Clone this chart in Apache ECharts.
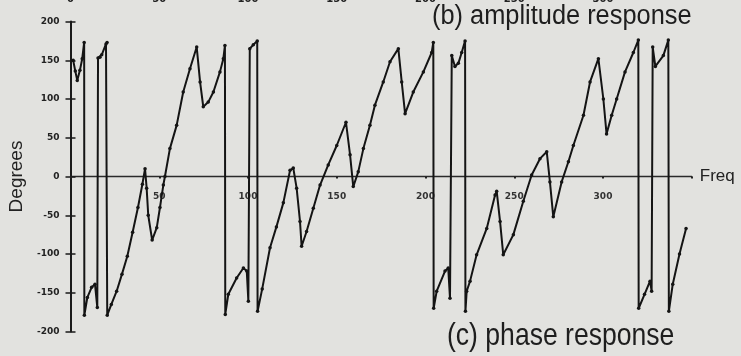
<!DOCTYPE html>
<html>
<head>
<meta charset="utf-8">
<script src="https://cdn.jsdelivr.net/npm/echarts@6/dist/echarts.min.js"></script>
<style>
html,body{margin:0;padding:0;background:#e2e2df;}
#c{width:741px;height:356px;}
</style>
</head>
<body>
<div id="c"></div>
<script>
// Frequency samples (x) and wrapped phase in degrees (y)
var freq = [1.5,2.7,3.8,5.3,6.6,7.7,7.8,9.5,11.9,13.8,15.1,15.5,16.6,17.6,20.0,20.6,20.7,
  23,26,29,32,35,38,40.5,42,42.9,43.8,46,48.6,50.4,52.3,53.2,56,59.8,63.5,67.3,71.1,
  73,74.8,77.6,80.5,84.2,86.1,87,87.2,88.9,93.6,97.4,99.3,100.2,101,103,105.2,105.4,
  108,112.4,116,119.9,123.7,125.5,127.4,129.3,130.2,133,136.8,140.6,145.2,150,155.2,
  157.5,159.3,162.1,165,168.7,171.5,176.2,180,184.7,186.6,188.5,193.1,198.8,203.5,204.4,
  204.6,206.3,211,212.8,213.8,214.8,216.6,218.5,220.4,222.3,222.5,223.2,225.1,228.8,
  234.5,239.2,240.1,242,243.8,249.5,255.1,259.8,264.5,268.3,270.1,272,276.7,280.5,283.3,
  289,292.7,297.4,300.2,302,304.9,307.7,312.4,317.1,319.9,320.1,323.4,326.5,327.4,328,
  329.5,334,336.8,337.1,339.3,343.1,346.8];
var phase = [150,136,124,137,152,173,-179,-156,-143,-139,-169,153,154,157,171,173,-179,
  -165,-148,-126,-103,-72,-40,-10,10,-15,-50,-82,-66,-40,-11,0,36,66,109,139,167,
  122,90,96,109,135,152,169,-178,-152,-131,-118,-122,-161,165,170,175,-174,
  -145,-92,-65,-34,8,11,-15,-58,-90,-71,-41,-11,15,40,70,
  28,-13,6,36,66,92,122,148,165,122,81,109,135,160,173,
  -170,-148,-122,-118,-157,156,142,146,160,175,-174,-148,-135,-101,
  -67,-24,-19,-58,-101,-75,-32,2,23,32,-7,-52,-7,19,40,
  79,122,152,100,55,79,100,135,160,176,-170,-152,-135,-148,167,
  142,156,176,-174,-139,-100,-67];
var xTicks = [0,50,100,150,200,250,300];
var yTicks = [-200,-150,-100,-50,0,50,100,150,200];
var titleTop = '(b) amplitude response';
var titleBottom = '(c) phase response';

var chart = echarts.init(document.getElementById('c'), null, {renderer:'canvas'});
var pts = freq.map(function(f,i){return [f, phase[i]];});
var ink = '#141414';
chart.setOption({
  backgroundColor:'#e2e2df',
  animation:false,
  grid:{left:70.5, top:21.5, width:621.25, height:310, containLabel:false, outerBoundsMode:'none'},
  xAxis:[{
    type:'value', min:0, max:350, interval:50, position:'bottom', offset:-155,
    name:'Freq', nameLocation:'end', nameGap:8,
    nameTextStyle:{fontFamily:'Liberation Sans', fontSize:17, color:'#222', align:'left', verticalAlign:'middle'},
    axisLine:{onZero:false, lineStyle:{color:'#2a2a2a', width:1.3}},
    axisTick:{show:true, length:2, lineStyle:{color:'#222', width:2}},
    axisLabel:{margin:16, fontSize:9, fontWeight:'bold', color:'#333', fontFamily:'DejaVu Sans',
      formatter:function(v){return xTicks.indexOf(v)>0 ? String(v) : '';}},
    splitLine:{show:false}
  },{
    type:'value', position:'top', min:0, max:350, interval:50,
    axisLine:{show:false, onZero:false}, axisTick:{show:false}, splitLine:{show:false},
    axisLabel:{margin:17, fontSize:10, fontWeight:'bold', color:'#222', fontFamily:'DejaVu Sans',
      formatter:function(v){return xTicks.indexOf(v)>=0 ? String(v) : '';}}
  }],
  yAxis:[{
    type:'value', min:-200, max:200, interval:50,
    name:'Degrees', nameLocation:'middle', nameGap:44, nameRotate:90,
    nameTextStyle:{fontFamily:'Liberation Sans', fontSize:19, color:'#222'},
    axisLine:{show:true, onZero:false, lineStyle:{color:'#1a1a1a', width:2}},
    axisTick:{show:true, length:5, lineStyle:{color:'#1a1a1a', width:1.5}},
    axisLabel:{margin:11, fontSize:9, fontWeight:'bold', color:'#222', fontFamily:'DejaVu Sans',
      formatter:function(v){return yTicks.indexOf(v)>=0 ? String(v) : '';}},
    splitLine:{show:false}
  },{
    type:'value', min:-200, max:200, interval:50, position:'left', offset:0,
    axisLine:{show:false, onZero:false},
    axisTick:{show:true, inside:true, length:5, lineStyle:{color:'#1a1a1a', width:1.5}},
    axisLabel:{show:false}, splitLine:{show:false}
  }],
  series:[{
    type:'line', data:pts, xAxisIndex:0, yAxisIndex:0,
    showSymbol:true, symbol:'circle', symbolSize:3.5,
    itemStyle:{color:ink},
    lineStyle:{color:ink, width:2},
    z:5
  }],
  graphic:[
    {type:'text', x:432, y:17, scaleX:0.94, scaleY:1,
     style:{text:titleTop, fontFamily:'Liberation Sans', fontSize:27, fill:'#1e1e1e', textAlign:'left', textVerticalAlign:'middle'}},
    {type:'text', x:447, y:336.5, scaleX:0.83, scaleY:1,
     style:{text:titleBottom, fontFamily:'Liberation Sans', fontSize:32, fill:'#1e1e1e', textAlign:'left', textVerticalAlign:'middle'}}
  ]
});
</script>
</body>
</html>
